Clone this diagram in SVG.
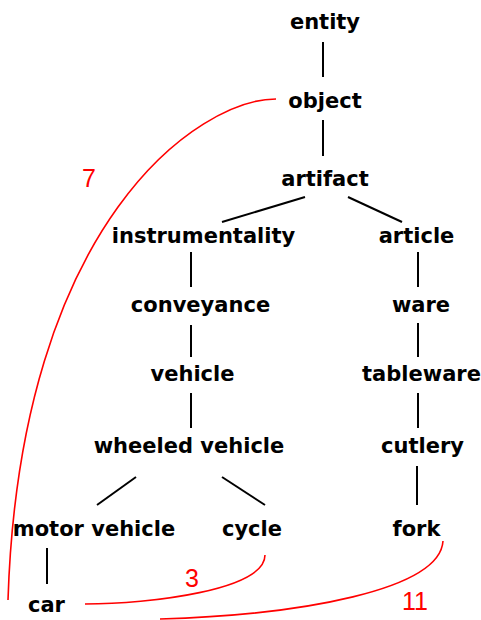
<svg xmlns="http://www.w3.org/2000/svg" width="481" height="620" viewBox="0 0 481 620">
<style>
.n{font-family:"DejaVu Sans",Verdana,sans-serif;font-weight:bold;font-size:21px;fill:#000;text-anchor:middle}
.e{stroke:#000;stroke-width:2;fill:none}
.r{stroke:#ff0000;stroke-width:1.6;fill:none}
.l{font-family:"Liberation Sans",Arial,sans-serif;font-size:25px;fill:#ff0000;text-anchor:middle}
</style>
<rect width="481" height="620" fill="#fff"/>
<g id="connectors">
<line class="e" x1="323" y1="42" x2="323" y2="77"/>
<line class="e" x1="323" y1="120" x2="323" y2="156"/>
<line class="e" x1="305" y1="197" x2="222" y2="222"/>
<line class="e" x1="348" y1="197" x2="402" y2="222"/>
<line class="e" x1="191" y1="252" x2="191" y2="287"/>
<line class="e" x1="191" y1="325" x2="191" y2="357"/>
<line class="e" x1="191" y1="393" x2="191" y2="428"/>
<line class="e" x1="136" y1="477" x2="97" y2="505"/>
<line class="e" x1="222" y1="477" x2="265" y2="505"/>
<line class="e" x1="47" y1="548" x2="47" y2="584"/>
<line class="e" x1="418" y1="252" x2="418" y2="287"/>
<line class="e" x1="418" y1="323" x2="418" y2="357"/>
<line class="e" x1="418" y1="393" x2="418" y2="428"/>
<line class="e" x1="417" y1="466" x2="417" y2="505"/>
<path class="r" d="M276,99 C200,99 20,220 8,600"/>
<path class="r" d="M265,555 C265,590 150,604 85,604"/>
<path class="r" d="M443,541 C440,590 300,615 160,619"/>
<text class="l" x="89" y="187">7</text>
<text class="l" x="192" y="587">3</text>
<text class="l" x="415" y="610">11</text>
</g>
<g id="entity"><text class="n" x="325" y="29">entity</text></g>
<g id="object"><text class="n" x="325" y="108">object</text></g>
<g id="artifact"><text class="n" x="325" y="186">artifact</text></g>
<g id="instrumentality"><text class="n" x="203.5" y="243">instrumentality</text></g>
<g id="article"><text class="n" x="416.5" y="243">article</text></g>
<g id="conveyance"><text class="n" x="200.5" y="312">conveyance</text></g>
<g id="ware"><text class="n" x="421" y="312">ware</text></g>
<g id="vehicle"><text class="n" x="192.5" y="381">vehicle</text></g>
<g id="tableware"><text class="n" x="421.5" y="381">tableware</text></g>
<g id="wheeled-vehicle"><text class="n" x="189" y="453">wheeled vehicle</text></g>
<g id="cutlery"><text class="n" x="422.5" y="453">cutlery</text></g>
<g id="motor-vehicle"><text class="n" x="94" y="536">motor vehicle</text></g>
<g id="cycle"><text class="n" x="252" y="536">cycle</text></g>
<g id="fork"><text class="n" x="416.5" y="536">fork</text></g>
<g id="car"><text class="n" x="46.5" y="612">car</text></g>
</svg>
